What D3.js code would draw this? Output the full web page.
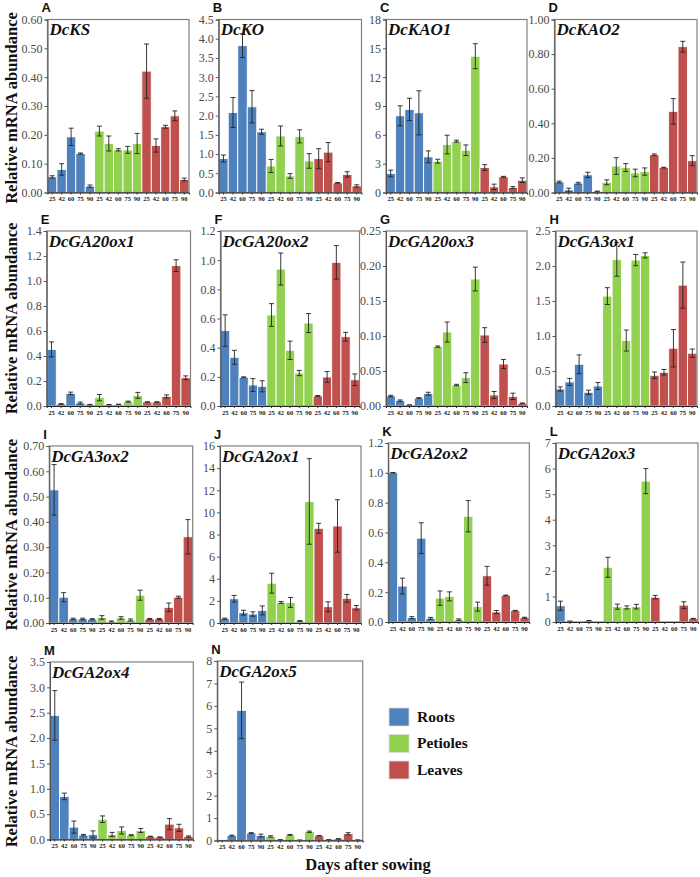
<!DOCTYPE html>
<html><head><meta charset="utf-8">
<script src="https://cdn.jsdelivr.net/npm/d3@7"></script>
<style>body{margin:0;background:#fff}svg{display:block}</style>
</head><body>
<svg id="chart" width="700" height="877"></svg>
<script>
// ---------- DATA ----------
const days = ["25","42","60","75","90"];
const tissues = ["Roots","Petioles","Leaves"];
const genes = ["DcKS","DcKO","DcKAO1","DcKAO2","DcGA20ox1","DcGA20ox2","DcGA20ox3","DcGA3ox1","DcGA3ox2","DcGA2ox1","DcGA2ox2","DcGA2ox3","DcGA2ox4","DcGA2ox5"];
const panelLetters = ["A","B","C","D","E","F","G","H","I","J","K","L","M","N"];
const yMax  = [0.6, 4.5, 18, 1.0, 1.4, 1.2, 0.25, 2.5, 0.7, 16, 1.2, 7, 3.5, 8];
const yStep = [0.1, 0.5, 3, 0.2, 0.2, 0.2, 0.05, 0.5, 0.1, 2, 0.2, 1, 0.5, 1];
const yFmt  = [".2f",".1f","d",".2f",".1f",".1f",".2f",".1f",".2f","d",".1f","d",".1f","d"];

// each array: Roots 25..90, Petioles 25..90, Leaves 25..90
const dcKS      = [0.054,0.080,0.193,0.135,0.022, 0.213,0.170,0.148,0.148,0.170, 0.421,0.163,0.228,0.266,0.045];
const dcKSErr   = [0.004,0.020,0.030,0.002,0.004, 0.017,0.026,0.004,0.012,0.035, 0.094,0.023,0.005,0.017,0.005];
const dcKO      = [0.885,2.08,3.82,2.23,1.58, 0.69,1.47,0.43,1.46,0.82, 0.88,1.05,0.25,0.47,0.17];
const dcKOErr   = [0.09,0.39,0.31,0.42,0.065, 0.17,0.26,0.06,0.17,0.19, 0.26,0.25,0.01,0.07,0.03];
const dcKAO1    = [1.98,7.98,8.64,8.29,3.71, 3.26,4.99,5.34,4.40,14.18, 2.60,0.59,1.63,0.52,1.28];
const dcKAO1Err = [0.35,1.04,1.16,2.29,0.62, 0.2,0.97,0.1,0.55,1.3, 0.3,0.28,0.05,0.1,0.24];
const dcKAO2    = [0.061,0.015,0.054,0.102,0.006, 0.059,0.153,0.144,0.113,0.121, 0.218,0.144,0.469,0.843,0.184];
const dcKAO2Err = [0.005,0.01,0.005,0.015,0.002, 0.014,0.048,0.023,0.022,0.021, 0.005,0.002,0.074,0.031,0.029];
const dcGA20ox1    = [0.453,0.016,0.101,0.024,0.010, 0.067,0.010,0.013,0.035,0.085, 0.032,0.032,0.077,1.123,0.226];
const dcGA20ox1Err = [0.06,0.003,0.01,0.008,0.003, 0.025,0.002,0.002,0.004,0.024, 0.002,0.002,0.012,0.047,0.015];
const dcGA20ox2    = [0.517,0.334,0.197,0.144,0.135, 0.624,0.939,0.382,0.226,0.569, 0.069,0.199,0.985,0.475,0.18];
const dcGA20ox2Err = [0.108,0.048,0.003,0.044,0.038, 0.078,0.11,0.063,0.018,0.065, 0.003,0.037,0.115,0.03,0.04];
const dcGA20ox3    = [0.0143,0.0076,0.0014,0.0114,0.0176, 0.0848,0.1057,0.030,0.0405,0.1814, 0.1014,0.0157,0.060,0.0138,0.0038];
const dcGA20ox3Err = [0.001,0.001,0.0003,0.0005,0.002, 0.001,0.0143,0.001,0.007,0.017, 0.0105,0.005,0.0065,0.0045,0.0005];
const dcGA3ox1     = [0.243,0.344,0.596,0.196,0.286, 1.57,2.094,0.935,2.085,2.152, 0.439,0.482,0.825,1.727,0.754];
const dcGA3ox1Err  = [0.03,0.05,0.134,0.03,0.05, 0.12,0.24,0.15,0.08,0.036, 0.047,0.04,0.267,0.33,0.06];
const dcGA3ox2     = [0.5265,0.102,0.016,0.016,0.015, 0.022,0.006,0.020,0.012,0.110, 0.016,0.016,0.062,0.102,0.341];
const dcGA3ox2Err  = [0.1,0.018,0.003,0.003,0.002, 0.007,0.002,0.005,0.004,0.02, 0.002,0.002,0.017,0.004,0.068];
const dcGA2ox1     = [0.39,2.19,0.93,0.81,1.14, 3.6,1.86,1.86,0.18,10.99, 8.56,1.47,8.77,2.23,1.38];
const dcGA2ox1Err  = [0.05,0.3,0.22,0.2,0.4, 0.9,0.08,0.45,0.05,3.87, 0.45,0.45,2.37,0.35,0.2];
const dcGA2ox2     = [1.0,0.241,0.029,0.562,0.025, 0.16,0.172,0.016,0.709,0.103, 0.31,0.067,0.178,0.076,0.029];
const dcGA2ox2Err  = [0.002,0.053,0.007,0.103,0.006, 0.048,0.03,0.005,0.105,0.03, 0.063,0.01,0.002,0.002,0.003];
const dcGA2ox3     = [0.635,0.03,0.005,0.05,0, 2.14,0.6,0.57,0.6,5.51, 0.97,0,0,0.66,0.13];
const dcGA2ox3Err  = [0.18,0.005,0,0.01,0, 0.39,0.1,0.06,0.09,0.49, 0.07,0,0,0.13,0.01];
const dcGA2ox4     = [2.446,0.85,0.244,0.086,0.1, 0.40,0.1,0.178,0.086,0.178, 0.06,0.046,0.303,0.23,0.06];
const dcGA2ox4Err  = [0.49,0.065,0.12,0.015,0.07, 0.065,0.04,0.07,0.01,0.04, 0.005,0.003,0.11,0.07,0.01];
const dcGA2ox5     = [0.01,0.22,5.8,0.33,0.22, 0.18,0.03,0.25,0.015,0.39, 0.21,0.03,0.07,0.30,0.02];
const dcGA2ox5Err  = [0,0.02,1.26,0.02,0.06, 0.03,0.005,0.02,0.003,0.03, 0.01,0.005,0.01,0.05,0.003];

const means = [dcKS,dcKO,dcKAO1,dcKAO2,dcGA20ox1,dcGA20ox2,dcGA20ox3,dcGA3ox1,dcGA3ox2,dcGA2ox1,dcGA2ox2,dcGA2ox3,dcGA2ox4,dcGA2ox5];
const errs  = [dcKSErr,dcKOErr,dcKAO1Err,dcKAO2Err,dcGA20ox1Err,dcGA20ox2Err,dcGA20ox3Err,dcGA3ox1Err,dcGA3ox2Err,dcGA2ox1Err,dcGA2ox2Err,dcGA2ox3Err,dcGA2ox4Err,dcGA2ox5Err];

// ---------- LAYOUT ----------
const colors = {Roots:"#4F81BD", Petioles:"#92D050", Leaves:"#C0504D"};
// frame [left, top, right, bottom(zero)]
const frames = [
  [47.5,19.5,189,192.5],[218.7,19.5,361.5,192.5],[386,19.5,527,192.5],[554.5,19.5,697,192.5],
  [46.7,231,190.5,406],[220.5,231,359.5,406],[386,231,527,406],[555.5,231,697,406],
  [49.3,446,192.7,623],[220,446,361,623],[388.3,443,529.3,622],[555.7,443,698,622],
  [50,662,193.3,839.5],[217.3,661,362.7,840.5]
];
const rowTitleY = [108, 318.5, 534.7, 751.5];

const svg = d3.select("#chart");
const serif = "'Liberation Serif','Times New Roman',serif";
const sans = "'Liberation Sans',Arial,sans-serif";

const cats = [];
tissues.forEach(t => days.forEach(d => cats.push(t + "|" + d)));

genes.forEach((g, i) => {
  const [L, T, R, B] = frames[i];
  const x = d3.scaleBand().domain(cats).range([L, R]).padding(0);
  const y = d3.scaleLinear().domain([0, yMax[i]]).range([B, T]);
  const gp = svg.append("g");
  const rows = cats.map((c, k) => ({c, t: c.split("|")[0], d: c.split("|")[1], v: means[i][k], e: errs[i][k]}));

  // bars
  gp.selectAll("rect.bar").data(rows).join("rect")
    .attr("x", d => x(d.c)).attr("width", x.bandwidth())
    .attr("y", d => y(d.v)).attr("height", d => Math.max(0, B - y(d.v)))
    .attr("fill", d => colors[d.t]).attr("stroke", "#fff").attr("stroke-width", 0.9);

  // error bars
  const eb = gp.selectAll("g.eb").data(rows.filter(d => d.e > 0)).join("g");
  const cx = d => x(d.c) + x.bandwidth() / 2;
  eb.append("line").attr("x1", cx).attr("x2", cx)
    .attr("y1", d => y(d.v + d.e)).attr("y2", d => y(Math.max(0, d.v - d.e)))
    .attr("stroke", "#222").attr("stroke-width", 0.9);
  [1, -1].forEach(s => {
    eb.append("line").attr("x1", d => cx(d) - 2.5).attr("x2", d => cx(d) + 2.5)
      .attr("y1", d => y(Math.max(0, d.v + s * d.e))).attr("y2", d => y(Math.max(0, d.v + s * d.e)))
      .attr("stroke", "#222").attr("stroke-width", 0.9);
  });

  // frame
  gp.append("rect").attr("x", L).attr("y", T).attr("width", R - L).attr("height", B - T)
    .attr("fill", "none").attr("stroke", "#808080").attr("stroke-width", 1.2);

  // y axis
  const ticks = d3.range(0, yMax[i] + yStep[i] / 2, yStep[i]);
  const yAxis = d3.axisLeft(y).tickValues(ticks).tickFormat(d3.format(yFmt[i])).tickSize(3).tickPadding(2);
  const ya = gp.append("g").attr("transform", `translate(${L},0)`).call(yAxis);
  ya.select(".domain").attr("stroke", "#555");
  ya.selectAll(".tick line").attr("stroke", "#555");
  ya.selectAll(".tick text").attr("font-family", serif).attr("font-size", 12).attr("fill", "#4a4a4a");

  // x axis
  const xAxis = d3.axisBottom(x).tickFormat(c => c.split("|")[1]).tickSize(2).tickPadding(2);
  const xa = gp.append("g").attr("transform", `translate(0,${B})`).call(xAxis);
  xa.select(".domain").attr("stroke", "#222");
  xa.selectAll(".tick line").attr("stroke", "#333");
  xa.selectAll(".tick text").attr("font-family", serif).attr("font-weight", "bold")
    .attr("font-size", 6.5).attr("fill", "#222");

  // gene name
  gp.append("text").attr("x", L + 2).attr("y", T + 15.5).text(g)
    .attr("font-family", serif).attr("font-style", "italic").attr("font-weight", "bold")
    .attr("font-size", 17).attr("fill", "#111");
  // panel letter
  gp.append("text").attr("x", L - 6).attr("y", T - 7.5).text(panelLetters[i])
    .attr("font-family", sans).attr("font-weight", "bold").attr("font-size", 13).attr("fill", "#111");
});

// y titles
rowTitleY.forEach(cy => {
  svg.append("text").attr("transform", `translate(16.5,${cy}) rotate(-90)`)
    .attr("text-anchor", "middle").text("Relative mRNA abundance")
    .attr("font-family", serif).attr("font-weight", "bold").attr("font-size", 16.5).attr("fill", "#111");
});

// x title
svg.append("text").attr("x", 368).attr("y", 870).attr("text-anchor", "middle")
  .text("Days after sowing").attr("font-family", serif).attr("font-weight", "bold")
  .attr("font-size", 16.5).attr("fill", "#111");

// legend
const lg = svg.append("g");
const legY = [708, 734.5, 761];
tissues.forEach((t, k) => {
  lg.append("rect").attr("x", 389).attr("y", legY[k]).attr("width", 20).attr("height", 18)
    .attr("fill", colors[t]).attr("stroke", "#ddd").attr("stroke-width", 0.8);
  lg.append("text").attr("x", 417).attr("y", legY[k] + 13.5).text(t)
    .attr("font-family", serif).attr("font-weight", "bold").attr("font-size", 15.5).attr("fill", "#111");
});
</script>
</body></html>
